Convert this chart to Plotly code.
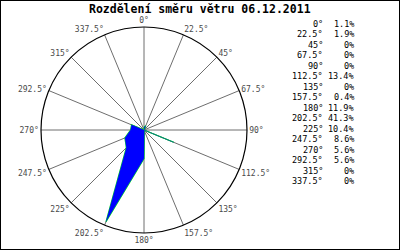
import plotly.graph_objects as go

directions = [0, 22.5, 45, 67.5, 90, 112.5, 135, 157.5, 180, 202.5, 225, 247.5, 270, 292.5, 315, 337.5]
percent = [1.1, 1.9, 0, 0, 0, 13.4, 0, 0.4, 11.9, 41.3, 10.4, 8.6, 5.6, 5.6, 0, 0]
tick_labels = ["0°", "22.5°", "45°", "67.5°", "90°", "112.5°", "135°", "157.5°",
               "180°", "202.5°", "225°", "247.5°", "270°", "292.5°", "315°", "337.5°"]
title_text = "Rozdělení směru větru 06.12.2011"

W, H = 400, 250
cx, cy, r = 144, 130, 103

fig = go.Figure()
# green outline underneath
fig.add_trace(go.Scatterpolar(
    r=percent + [percent[0]], theta=directions + [directions[0]],
    mode="lines", line=dict(color="#00ff00", width=1.2),
    hoverinfo="skip", showlegend=False))
# blue fill on top
fig.add_trace(go.Scatterpolar(
    r=percent, theta=directions, mode="lines", fill="toself",
    fillcolor="#0000ff", line=dict(color="#0000ff", width=0.3),
    hoverinfo="skip", showlegend=False))

fig.update_layout(
    width=W, height=H,
    margin=dict(l=0, r=0, t=0, b=0),
    paper_bgcolor="white", plot_bgcolor="white",
    showlegend=False,
    polar=dict(
        domain=dict(x=[(cx - r) / W, (cx + r) / W],
                    y=[(H - cy - r) / H, (H - cy + r) / H]),
        bgcolor="white",
        radialaxis=dict(range=[0, 42.9], visible=False, showgrid=False),
        angularaxis=dict(
            rotation=90, direction="clockwise",
            tickmode="array", tickvals=directions, ticktext=tick_labels,
            ticks="", showgrid=True, gridcolor="#6e6e6e", gridwidth=1,
            showline=True, linecolor="black", linewidth=1.2,
            tickfont=dict(family="DejaVu Sans Mono", size=8, color="#4a4a4a"),
        ),
    ),
)

annotations = [dict(
    text="<b>" + title_text + "</b>", x=0.5, y=1 - 9 / H, xref="paper", yref="paper",
    xanchor="center", yanchor="middle", showarrow=False,
    font=dict(family="DejaVu Sans Mono", size=11.5, color="black"))]

for i, (lab, v) in enumerate(zip(tick_labels, percent)):
    py = 24 + i * 10.47
    yy = 1 - py / H
    annotations.append(dict(
        text=lab, x=325 / W, y=yy, xref="paper", yref="paper",
        xanchor="right", yanchor="middle", showarrow=False,
        font=dict(family="DejaVu Sans Mono", size=8.5, color="black")))
    annotations.append(dict(
        text=f"{v:g}%", x=356 / W, y=yy, xref="paper", yref="paper",
        xanchor="right", yanchor="middle", showarrow=False,
        font=dict(family="DejaVu Sans Mono", size=8.5, color="black")))

fig.update_layout(annotations=annotations)
fig.add_shape(type="rect", xref="paper", yref="paper", x0=0, x1=1, y0=0, y1=1,
              line=dict(color="black", width=2))

fig.write_html("out.html")
